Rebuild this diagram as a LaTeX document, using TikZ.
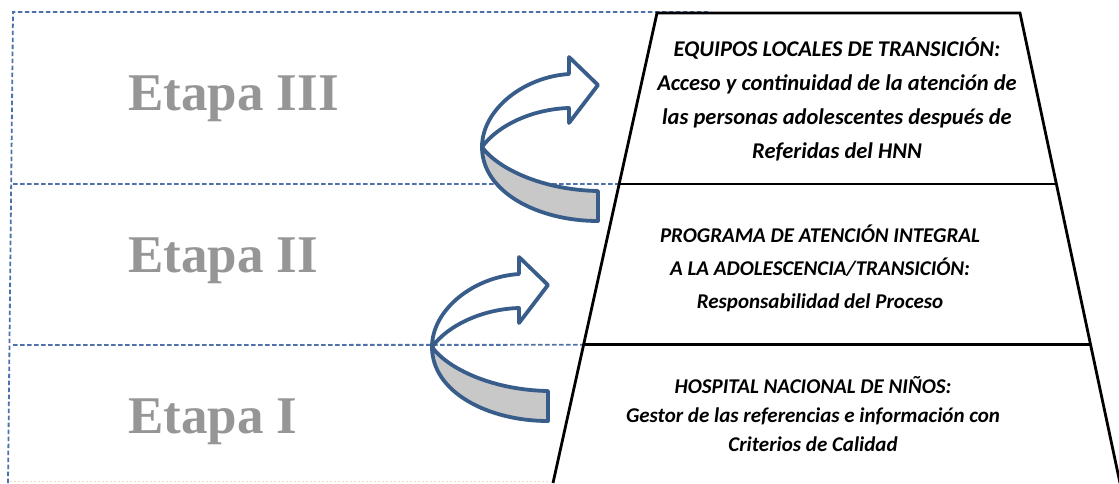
\documentclass[tikz,border=0pt]{standalone}
\usepackage{fontspec}
\setmainfont{Carlito}
\newfontfamily\etapafont{Liberation Serif}
\usetikzlibrary{calc}
\definecolor{stageblue}{RGB}{79,113,170}
\definecolor{arrowblue}{RGB}{56,93,138}
\definecolor{ribbongray}{RGB}{200,200,200}
\definecolor{etapagray}{RGB}{150,150,150}
\tikzset{
    x=1pt, y=-1pt,
    stage line/.style={
        draw=stageblue,
        line width=1.8pt,
        dash pattern=on 4.5pt off 2.5pt
    },
    tier line/.style={
        draw=black,
        line width=2.8pt
    },
    tier text/.style={
        align=center,
        inner sep=0pt,
        font=\bfseries\itshape\fontsize{22.5}{34}\selectfont
    },
    stage label/.style={
        anchor=base west,
        inner sep=0pt,
        text=etapagray,
        font=\etapafont\bfseries\fontsize{53}{53}\selectfont
    },
    turn arrow/.pic={
        % back of the ribbon
        \draw[arrowblue, line width=3.8pt, line join=round, fill=ribbongray]
            (-116,62) .. controls (-116,107) and (-60,136) .. (0,136)
            -- (0,106) .. controls (-55,105) and (-100,84) .. (-116,62) -- cycle;
        % front of the ribbon with its head
        \draw[arrowblue, line width=3.8pt, line join=round, fill=white]
            (-116,62) .. controls (-116,25) and (-75,-8) .. (-29,-11)
            -- (-29,-28) -- (0,0) -- (-29,38) -- (-29,23)
            .. controls (-65,24) and (-100,40) .. (-116,62) -- cycle;
    }
}

\begin{document}
\begin{tikzpicture}
    \useasboundingbox (0,0) rectangle (1119,483);
    \clip (0,0) rectangle (1119,483);

    \coordinate (tl) at (657,13);
    \coordinate (tr) at (1020,13);
    \coordinate (bl) at (553,483);
    \coordinate (br) at (1120,483);
    \coordinate (ml) at ($(tl)!0.364!(bl)$);
    \coordinate (mr) at ($(tr)!0.364!(br)$);
    \coordinate (nl) at ($(tl)!0.706!(bl)$);
    \coordinate (nr) at ($(tr)!0.706!(br)$);

    % stage boxes
    \draw[stage line] (8,483) -- (13,12) -- (708,12);
    \draw[stage line] (13,184) -- (ml);
    \draw[stage line] (13,345) -- (nl);
    \draw[draw=yellow!40!gray!40, line width=1pt, dash pattern=on 2pt off 2pt] (10,481) -- (550,481);

    \node[stage label] (l3) at (128,110) {Etapa III};
    \node[stage label] (l2) at (128,272) {Etapa II};
    \node[stage label] (l1) at (128,433) {Etapa I};

    \pic at (598,85) {turn arrow};
    \pic at (548,285) {turn arrow};

    % pyramid
    \draw[tier line] (bl) -- (tl) -- (tr) -- (br);
    \draw[tier line] (ml) -- (mr);
    \draw[tier line] (nl) -- (nr);

    \node[tier text] (t3) at (837,99) {EQUIPOS LOCALES DE TRANSICIÓN:\\
        Acceso y continuidad de la atención de\\
        las personas adolescentes después de\\
        Referidas del HNN};
    \node[tier text, font=\bfseries\itshape\fontsize{21}{33}\selectfont] (t2) at (820,268) {PROGRAMA DE ATENCIÓN INTEGRAL\\
        A LA ADOLESCENCIA/TRANSICIÓN:\\
        Responsabilidad del Proceso};
    \node[tier text, font=\bfseries\itshape\fontsize{21}{29}\selectfont] (t1) at (813,414) {HOSPITAL NACIONAL DE NIÑOS:\\
        Gestor de las referencias e información con\\
        Criterios de Calidad};
\end{tikzpicture}
\end{document}
